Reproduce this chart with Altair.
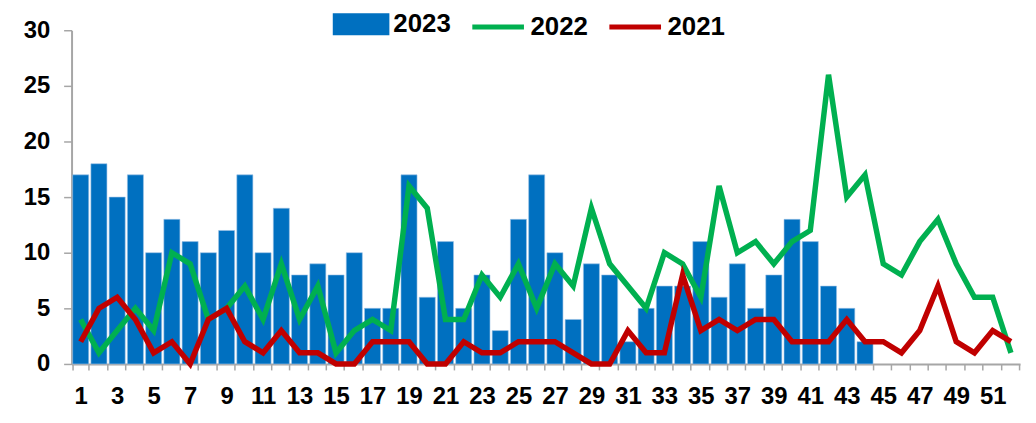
import altair as alt
import pandas as pd

weeks = list(range(1, 53))
y2023 = [17, 18, 15, 17, 10, 13, 11, 10, 12, 17, 10, 14, 8, 9, 8, 10, 5, 5, 17, 6,
         11, 5, 8, 3, 13, 17, 10, 4, 9, 8, 2, 5, 7, 7, 11, 6, 9, 5, 8, 13,
         11, 7, 5, 2]
y2022 = [4, 1, 3, 5, 3, 10, 9, 4, 5, 7, 4, 9, 4, 7, 1, 3, 4, 3, 16, 14,
         4, 4, 8, 6, 9, 5, 9, 7, 14, 9, 7, 5, 10, 9, 6, 16, 10, 11, 9, 11,
         12, 26, 15, 17, 9, 8, 11, 13, 9, 6, 6, 1]
y2021 = [2, 5, 6, 4, 1, 2, 0, 4, 5, 2, 1, 3, 1, 1, 0, 0, 2, 2, 2, 0,
         0, 2, 1, 1, 2, 2, 2, 1, 0, 0, 3, 1, 1, 8, 3, 4, 3, 4, 4, 2,
         2, 2, 4, 2, 2, 1, 3, 7, 2, 1, 3, 2]
series = ["2023", "2022", "2021"]
colors = ["#0070C0", "#00B050", "#C00000"]

bar_df = pd.DataFrame({"week": weeks[:len(y2023)], "value": y2023, "series": "2023"})
line_df = pd.concat([
    pd.DataFrame({"week": weeks, "value": y2022, "series": "2022"}),
    pd.DataFrame({"week": weeks, "value": y2021, "series": "2021"}),
])

FONT = "Liberation Sans, Arial, sans-serif"

x_enc = alt.X("week:O", scale=alt.Scale(domain=weeks, paddingInner=0.12, paddingOuter=0.06),
              axis=alt.Axis(title=None, labelAngle=0, tickBand="extent",
                            labelExpr="datum.value % 2 == 1 ? datum.label : ''",
                            labelFont=FONT, labelFontSize=24, labelFontWeight="bold",
                            labelColor="#000000", labelPadding=15, tickSize=6,
                            tickColor="#A6A6A6", domainColor="#A6A6A6", domainWidth=2,
                            tickWidth=1.5))
y_enc = alt.Y("value:Q", scale=alt.Scale(domain=[0, 30], nice=False),
              axis=alt.Axis(title=None, values=[0, 5, 10, 15, 20, 25, 30], grid=False,
                            labelFont=FONT, labelFontSize=24, labelFontWeight="bold",
                            labelColor="#000000", labelPadding=14, tickSize=8,
                            tickColor="#A6A6A6", domainColor="#A6A6A6", domainWidth=2,
                            tickWidth=1.5))

legend = alt.Legend(
    title=None, orient="none", direction="horizontal", legendX=263, legendY=-35,
    labelFont=FONT, labelFontSize=26, labelFontWeight="bold", labelColor="#000000",
    labelOffset=4, columnPadding=11, symbolSize=2704,
    symbolType={"expr": "datum.value == '2023' ? 'M-1,-0.33H1V0.33H-1Z' : 'stroke'"},
    symbolStrokeColor={"expr": "datum.value == '2023' ? 'transparent' : scale('color', datum.value)"},
    symbolFillColor={"expr": "datum.value == '2023' ? scale('color', datum.value) : 'transparent'"},
    symbolStrokeWidth=5,
    symbolOpacity=1,
)
color_enc = alt.Color("series:N", scale=alt.Scale(domain=series, range=colors), legend=legend,
                      sort=series)

bars = alt.Chart(bar_df).mark_bar(stroke="#9DC3E6", strokeWidth=0.6).encode(
    x=x_enc, y=y_enc, color=color_enc)
lines = alt.Chart(line_df).mark_line(strokeWidth=5.5).encode(
    x=x_enc, y=y_enc, color=color_enc,
    order=alt.Order("week:Q"), detail="series:N")

chart = alt.layer(bars, lines).properties(
    width=955, height=336,
    autosize=alt.AutoSizeParams(type="none"),
    padding={"left": 64, "top": 21, "right": 8, "bottom": 50},
).configure_view(stroke=None)

chart.save("out.html", embed_options={"renderer": "svg", "actions": False})
